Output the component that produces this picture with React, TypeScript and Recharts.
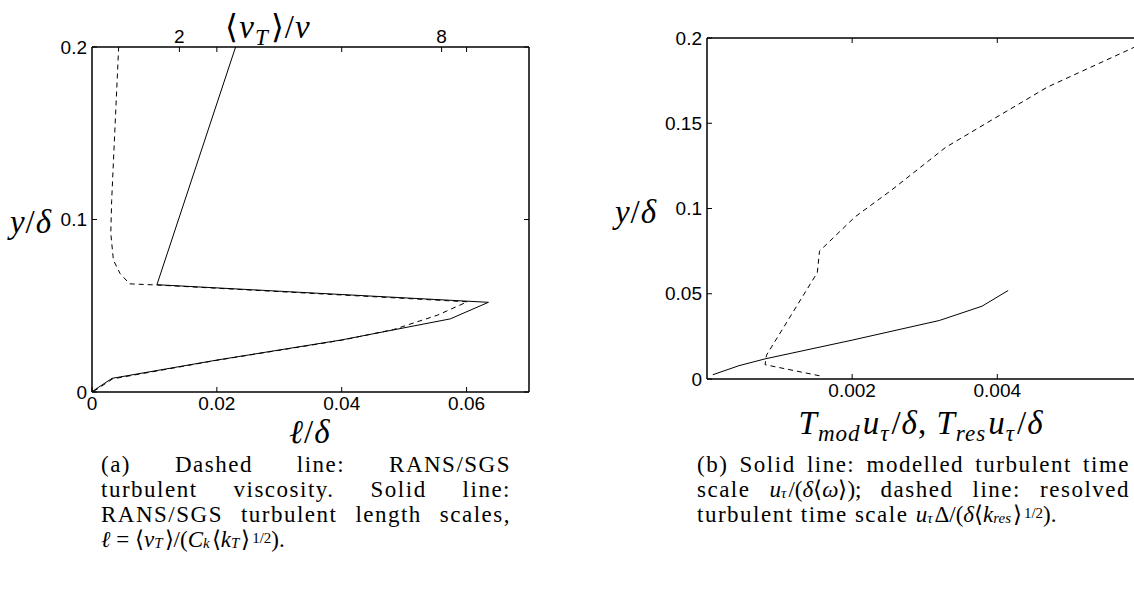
import React from 'react'
import { LineChart, Line, XAxis, YAxis } from 'recharts'

// (a) solid line: RANS/SGS length scale l/delta against y/delta (bottom axis)
const lenX = [0, 0.0032, 0.02, 0.04, 0.0574, 0.0635, 0.0104, 0.023]
const lenY = [0.0002, 0.0079, 0.0185, 0.0302, 0.0424, 0.052, 0.0622, 0.2]
// (a) dashed line: <nu_T>/nu against y/delta (top axis)
const nuX = [0.04, 0.47, 2.86, 5.71, 6.9, 7.9, 8.59, 1.5, 0.86, 0.64, 0.49, 0.43, 0.45, 0.52, 0.61]
const nuY = [0.0004, 0.0076, 0.0184, 0.03, 0.0362, 0.0445, 0.0523, 0.062, 0.0627, 0.0688, 0.0765, 0.092, 0.111, 0.15, 0.2]

const L_MAX = 0.07
const NU_MAX = 10
const L_TICKS = [0, 0.02, 0.04, 0.06]
const NU_TICKS = [2, 8]
const Y_TICKS_A = [0, 0.1, 0.2]

// (b) solid: modelled time scale, dashed: resolved time scale
const modX = [0.00008, 0.00044, 0.0008, 0.002, 0.0032, 0.00379, 0.00415]
const modY = [0.0025, 0.0078, 0.0118, 0.0228, 0.0343, 0.0427, 0.0519]
const resX = [0.00155, 0.0008, 0.00082, 0.00152, 0.00155, 0.00204, 0.00254, 0.00329, 0.00386, 0.00469, 0.00595]
const resY = [0.0019, 0.0084, 0.014, 0.0624, 0.075, 0.0951, 0.1107, 0.1359, 0.1503, 0.1712, 0.1958]

const T_MAX = 0.007
const T_TICKS = [0.002, 0.004]
const Y_TICKS_B = [0, 0.05, 0.1, 0.15, 0.2]

const pairs = (xs: number[], ys: number[]) => xs.map((x, i) => ({ x, y: ys[i] }))

const axisLine = { stroke: '#000', strokeWidth: 1.5 }
const tickLine = { stroke: '#000', strokeWidth: 1 }
const tickFont = { fill: '#000', fontSize: 19, fontFamily: '"Liberation Sans", Arial, sans-serif' }
const blank = () => ''

const serif = '"Liberation Serif", "Times New Roman", serif'
// axis labels
const sub: React.CSSProperties = { fontSize: '0.7em', verticalAlign: '-0.3em', lineHeight: 0, paddingRight: 2 }
// captions (tighter so they stay inside their own line)
const csub: React.CSSProperties = { fontSize: '0.65em', verticalAlign: '-0.1em', lineHeight: 0, paddingRight: 2 }
const csup: React.CSSProperties = { fontSize: '0.65em', verticalAlign: '0.3em', lineHeight: 0, paddingLeft: 2 }
const math: React.CSSProperties = { letterSpacing: 0 }

function Label({ x, y, children }: { x: number; y: number; children: React.ReactNode }) {
  return (
    <div style={{
      position: 'absolute', left: x, top: y, transform: 'translate(-50%, -50%)',
      fontFamily: serif, fontSize: 33, whiteSpace: 'nowrap', color: '#000', lineHeight: 1, letterSpacing: 1,
    }}>
      {children}
    </div>
  )
}

const just: React.CSSProperties = { textAlign: 'justify', textAlignLast: 'justify' }
const caption: React.CSSProperties = {
  position: 'absolute', top: 452, fontFamily: serif, fontSize: 23, lineHeight: '25px',
  letterSpacing: 1.5, color: '#000',
}

export default function App() {
  const topTicks = [...NU_TICKS, ...L_TICKS.slice(1).map(t => (t / L_MAX) * NU_MAX)]

  return (
    <div style={{ position: 'fixed', left: 0, top: 0, width: 1134, height: 592, overflow: 'hidden', background: '#fff' }}>
      {/* (a) */}
      <div style={{ position: 'absolute', left: 0, top: 0 }}>
        <LineChart width={560} height={440} margin={{ top: 17, left: 32, right: 21, bottom: 18 }}>
          <XAxis xAxisId="l" type="number" dataKey="x" domain={[0, L_MAX]} ticks={L_TICKS} interval={0}
            allowDataOverflow height={30} tickSize={-5} tickMargin={10}
            axisLine={axisLine} tickLine={tickLine} tick={tickFont} />
          <XAxis xAxisId="nu" orientation="top" type="number" dataKey="x" domain={[0, NU_MAX]} ticks={topTicks} interval={0}
            allowDataOverflow height={30} tickSize={-5} tickMargin={9}
            tickFormatter={(v: number) => (NU_TICKS.includes(v) ? String(v) : '')}
            axisLine={axisLine} tickLine={tickLine} tick={tickFont} />
          <YAxis yAxisId="left" type="number" domain={[0, 0.2]} ticks={Y_TICKS_A} interval={0}
            allowDataOverflow width={60} tickSize={-5} tickMargin={10}
            axisLine={axisLine} tickLine={tickLine} tick={tickFont} />
          <YAxis yAxisId="right" orientation="right" type="number" domain={[0, 0.2]} ticks={Y_TICKS_A} interval={0}
            allowDataOverflow width={10} tickSize={-5} tickFormatter={blank}
            axisLine={axisLine} tickLine={tickLine} tick={tickFont} />
          <Line xAxisId="l" yAxisId="left" data={pairs(lenX, lenY)} dataKey="y" type="linear"
            stroke="#000" strokeWidth={1} dot={false} isAnimationActive={false} />
          <Line xAxisId="nu" yAxisId="left" data={pairs(nuX, nuY)} dataKey="y" type="linear"
            stroke="#000" strokeWidth={1} strokeDasharray="5 4" dot={false} isAnimationActive={false} />
        </LineChart>
      </div>

      <Label x={268} y={27}>⟨<i>ν</i><span style={sub}><i>T</i></span>⟩/<i>ν</i></Label>
      <Label x={31} y={222}><i>y</i>/<i>δ</i></Label>
      <Label x={310} y={432}><i>ℓ</i>/<i>δ</i></Label>

      {/* (b) */}
      <div style={{ position: 'absolute', left: 600, top: 0 }}>
        <LineChart width={635} height={440} margin={{ top: 8, left: 47, right: 20, bottom: 31 }}>
          <XAxis xAxisId="t" type="number" dataKey="x" domain={[0, T_MAX]} ticks={T_TICKS} interval={0}
            allowDataOverflow height={30} tickSize={-5} tickMargin={10}
            axisLine={axisLine} tickLine={tickLine} tick={tickFont} />
          <XAxis xAxisId="top" orientation="top" type="number" dataKey="x" domain={[0, T_MAX]} ticks={T_TICKS} interval={0}
            allowDataOverflow height={30} tickSize={-5} tickFormatter={blank}
            axisLine={axisLine} tickLine={tickLine} tick={tickFont} />
          <YAxis yAxisId="y" type="number" domain={[0, 0.2]} ticks={Y_TICKS_B} interval={0}
            allowDataOverflow width={60} tickSize={-5} tickMargin={10}
            axisLine={axisLine} tickLine={tickLine} tick={tickFont} />
          <Line xAxisId="t" yAxisId="y" data={pairs(modX, modY)} dataKey="y" type="linear"
            stroke="#000" strokeWidth={1} dot={false} isAnimationActive={false} />
          <Line xAxisId="t" yAxisId="y" data={pairs(resX, resY)} dataKey="y" type="linear"
            stroke="#000" strokeWidth={1} strokeDasharray="5 4" dot={false} isAnimationActive={false} />
        </LineChart>
      </div>

      <Label x={636} y={212}><i>y</i>/<i>δ</i></Label>
      <Label x={921} y={423}>
        <i>T</i><span style={sub}><i>mod</i></span><i>u</i><span style={sub}><i>τ</i></span>/<i>δ</i>,{' '}
        <i>T</i><span style={sub}><i>res</i></span><i>u</i><span style={sub}><i>τ</i></span>/<i>δ</i>
      </Label>

      {/* captions */}
      <div style={{ ...caption, left: 101, width: 410 }}>
        <div style={just}>(a) Dashed line: RANS/SGS</div>
        <div style={just}>turbulent viscosity. Solid line:</div>
        <div style={just}>RANS/SGS turbulent length scales,</div>
        <div style={math}>
          <i>ℓ</i> = ⟨<i>ν</i><span style={csub}><i>T</i></span>⟩/(<i>C</i><span style={csub}><i>k</i></span>⟨<i>k</i><span style={csub}><i>T</i></span>⟩<span style={csup}>1/2</span>).
        </div>
      </div>
      <div style={{ ...caption, left: 697, width: 433 }}>
        <div style={just}>(b) Solid line: modelled turbulent time</div>
        <div style={just}>
          scale <span style={math}><i>u</i><span style={csub}><i>τ</i></span>/(<i>δ</i>⟨<i>ω</i>⟩);</span> dashed line: resolved
        </div>
        <div>
          turbulent time scale <span style={math}><i>u</i><span style={csub}><i>τ</i></span>Δ/(<i>δ</i>⟨<i>k</i><span style={csub}><i>res</i></span>⟩<span style={csup}>1/2</span>).</span>
        </div>
      </div>
    </div>
  )
}
